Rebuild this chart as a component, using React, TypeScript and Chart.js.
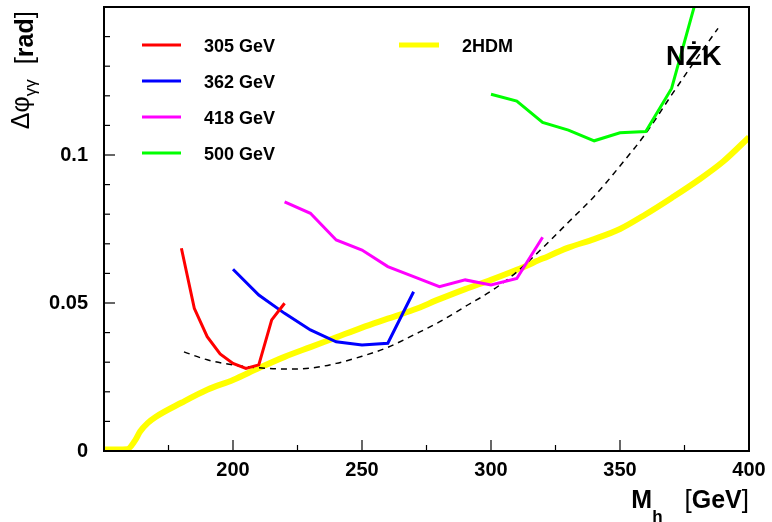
import { useEffect, useRef } from "react";
import { Chart, registerables } from "chart.js";

Chart.register(...registerables);

const FONT = '"Liberation Sans", Arial, Helvetica, sans-serif';

// Δφγγ (rad) versus Higgs mass M_h (GeV) for each collider energy
const mass305 = [180, 185, 190, 195, 200, 205, 210, 215, 220];
const phi305 = [0.0685, 0.0482, 0.0386, 0.0328, 0.0296, 0.0279, 0.0291, 0.0443, 0.0499];

const mass362 = [200, 210, 220, 230, 240, 250, 260, 270];
const phi362 = [0.0614, 0.0527, 0.0465, 0.0409, 0.0369, 0.0358, 0.0364, 0.0538];

const mass418 = [220, 230, 240, 250, 260, 270, 280, 290, 300, 310, 320];
const phi418 = [0.0842, 0.0803, 0.0713, 0.0679, 0.0623, 0.0589, 0.0555, 0.0578, 0.0561, 0.0583, 0.0722];

const mass500 = [300, 310, 320, 330, 340, 350, 360, 370, 380];
const phi500 = [0.1205, 0.1182, 0.111, 0.1084, 0.1048, 0.1075, 0.1079, 0.1225, 0.154];

// 2HDM prediction
const mass2hdm = [150, 155, 159, 162, 164, 167, 170, 180, 190, 200, 210, 220, 230, 240, 250, 260, 270, 280, 290, 300, 310, 320, 330, 340, 350, 360, 370, 380, 390, 400];
const phi2hdm = [0.0005, 0.0005, 0.0006, 0.0035, 0.0066, 0.0095, 0.0115, 0.0163, 0.0207, 0.024, 0.028, 0.0318, 0.0351, 0.0384, 0.0417, 0.0447, 0.0477, 0.0513, 0.0547, 0.0578, 0.0612, 0.065, 0.0687, 0.0716, 0.075, 0.08, 0.0855, 0.0913, 0.0978, 0.106];

// NŻK reference curve (dashed)
const massNzk = [181, 190, 200, 210, 220, 230, 240, 250, 260, 270, 280, 290, 300, 310, 320, 330, 340, 350, 360, 370, 380, 388];
const phiNzk = [0.0335, 0.0308, 0.0291, 0.0281, 0.0277, 0.028, 0.0296, 0.032, 0.035, 0.0392, 0.0436, 0.0488, 0.054, 0.0605, 0.0686, 0.0773, 0.086, 0.0963, 0.1073, 0.1203, 0.133, 0.1428];

const xTickValues = [200, 250, 300, 350, 400];
const xTickLabels = ["200", "250", "300", "350", "400"];
const xMinorTicks = [175, 225, 275, 325, 375];
const yTickValues = [0, 0.05, 0.1];
const yTickLabels = ["0", "0.05", "0.1"];
const yMinorTicks = [0.01, 0.02, 0.03, 0.04, 0.06, 0.07, 0.08, 0.09, 0.11, 0.12, 0.13, 0.14];

const energyLabels = ["305 GeV", "362 GeV", "418 GeV", "500 GeV"];
const energyColors = ["#ff0000", "#0000ff", "#ff00ff", "#00ff00"];
const modelLabel = "2HDM";
const modelColor = "#ffff00";
const curveLabel = "NŻK";

const toPoints = (xs: number[], ys: number[]) => xs.map((x, i) => ({ x, y: ys[i] }));

type Seg = { text: string; font: string; dy: number; gap?: number };

function drawSegments(ctx: CanvasRenderingContext2D, segs: Seg[], x: number, y: number) {
  let cx = x;
  for (const s of segs) {
    cx += s.gap ?? 0;
    ctx.font = s.font;
    ctx.fillText(s.text, cx, y + s.dy);
    cx += ctx.measureText(s.text).width;
  }
}

function segWidth(ctx: CanvasRenderingContext2D, segs: Seg[]) {
  let w = 0;
  for (const s of segs) {
    ctx.font = s.font;
    w += (s.gap ?? 0) + ctx.measureText(s.text).width;
  }
  return w;
}

const decorations = {
  id: "decorations",
  afterDatasetsDraw(chart: any) {
    const { ctx, chartArea: a, scales } = chart;
    const xs = scales.x;
    const ys = scales.y;
    ctx.save();
    ctx.strokeStyle = "#000";
    ctx.fillStyle = "#000";

    // inward tick marks
    ctx.lineWidth = 1.2;
    const line = (x1: number, y1: number, x2: number, y2: number) => {
      ctx.beginPath();
      ctx.moveTo(x1, y1);
      ctx.lineTo(x2, y2);
      ctx.stroke();
    };
    xTickValues.forEach((v) => {
      const px = xs.getPixelForValue(v);
      line(px, a.bottom, px, a.bottom - 11);
    });
    xMinorTicks.forEach((v) => {
      const px = xs.getPixelForValue(v);
      line(px, a.bottom, px, a.bottom - 6);
    });
    yTickValues.forEach((v) => {
      const py = ys.getPixelForValue(v);
      line(a.left, py, a.left + 11, py);
    });
    yMinorTicks.forEach((v) => {
      const py = ys.getPixelForValue(v);
      line(a.left, py, a.left + 6, py);
    });

    // frame
    ctx.lineWidth = 2;
    ctx.strokeRect(a.left, a.top, a.right - a.left, a.bottom - a.top);

    // legend
    ctx.textAlign = "left";
    ctx.textBaseline = "alphabetic";
    ctx.font = `bold 18px ${FONT}`;
    energyLabels.forEach((label, i) => {
      const ly = 45 + 36 * i;
      ctx.strokeStyle = energyColors[i];
      ctx.lineWidth = 3;
      line(142, ly, 181, ly);
      ctx.fillStyle = "#000";
      ctx.fillText(label, 204, ly + 7);
    });
    ctx.strokeStyle = modelColor;
    ctx.lineWidth = 5;
    line(399, 45, 439, 45);
    ctx.fillText(modelLabel, 462, 52);

    // curve label
    ctx.font = `bold 27px ${FONT}`;
    ctx.fillText(curveLabel, 666, 65);

    // x-axis title
    const xSegs: Seg[] = [
      { text: "M", font: `bold 25px ${FONT}`, dy: 0 },
      { text: "h", font: `bold 17px ${FONT}`, dy: 14 },
      { text: "[", font: `26px ${FONT}`, dy: 0, gap: 22 },
      { text: "GeV", font: `bold 25px ${FONT}`, dy: 0 },
      { text: "]", font: `26px ${FONT}`, dy: 0 },
    ];
    const xw = segWidth(ctx, xSegs);
    drawSegments(ctx, xSegs, 749 - xw, 508);

    // y-axis title (rotated)
    const ySegs: Seg[] = [
      { text: "Δφ", font: `25px ${FONT}`, dy: -4 },
      { text: "γγ", font: `17px ${FONT}`, dy: 3 },
      { text: "[", font: `26px ${FONT}`, dy: 0, gap: 15 },
      { text: "rad", font: `bold 25px ${FONT}`, dy: 0 },
      { text: "]", font: `26px ${FONT}`, dy: 0 },
    ];
    const yw = segWidth(ctx, ySegs);
    ctx.translate(33, 11 + yw);
    ctx.rotate(-Math.PI / 2);
    drawSegments(ctx, ySegs, 0, 0);

    ctx.restore();
  },
};

export default function App() {
  const canvasRef = useRef<HTMLCanvasElement | null>(null);

  useEffect(() => {
    const canvas = canvasRef.current;
    if (!canvas) return;
    const thin = { pointRadius: 0, borderWidth: 3, tension: 0, clip: 0, fill: false };
    const chart = new Chart(canvas, {
      type: "line",
      data: {
        datasets: [
          { ...thin, label: energyLabels[0], data: toPoints(mass305, phi305), borderColor: energyColors[0] },
          { ...thin, label: energyLabels[1], data: toPoints(mass362, phi362), borderColor: energyColors[1] },
          { ...thin, label: energyLabels[2], data: toPoints(mass418, phi418), borderColor: energyColors[2] },
          { ...thin, label: energyLabels[3], data: toPoints(mass500, phi500), borderColor: energyColors[3] },
          {
            label: curveLabel,
            data: toPoints(massNzk, phiNzk),
            borderColor: "#000",
            borderWidth: 1.5,
            borderDash: [6, 5],
            pointRadius: 0,
            tension: 0.4,
            cubicInterpolationMode: "monotone",
            clip: 0,
            fill: false,
          },
          {
            label: modelLabel,
            data: toPoints(mass2hdm, phi2hdm),
            borderColor: modelColor,
            borderWidth: 6,
            pointRadius: 0,
            tension: 0.4,
            cubicInterpolationMode: "monotone",
            clip: 0,
            fill: false,
          },
        ],
      } as any,
      options: {
        animation: false,
        responsive: false,
        devicePixelRatio: 1,
        layout: { padding: { top: 7, right: 23, left: 0, bottom: 0 } },
        plugins: { legend: { display: false }, tooltip: { enabled: false } },
        scales: {
          x: {
            type: "linear",
            min: 150,
            max: 400,
            grid: { display: false, drawTicks: false },
            border: { display: false },
            afterFit: (s: any) => {
              s.height = 71;
              s.paddingLeft = 0;
              s.paddingRight = 0;
            },
            afterBuildTicks: (s: any) => {
              s.ticks = xTickValues.map((value) => ({ value }));
            },
            ticks: {
              autoSkip: false,
              maxRotation: 0,
              padding: 7,
              color: "#000",
              font: { family: FONT, size: 20, weight: "bold" },
              callback: (_v: any, i: number) => xTickLabels[i],
            },
          },
          y: {
            type: "linear",
            min: 0,
            max: 0.15,
            grid: { display: false, drawTicks: false },
            border: { display: false },
            afterFit: (s: any) => {
              s.width = 104;
              s.paddingTop = 0;
              s.paddingBottom = 0;
            },
            afterBuildTicks: (s: any) => {
              s.ticks = yTickValues.map((value) => ({ value }));
            },
            ticks: {
              autoSkip: false,
              padding: 16,
              color: "#000",
              font: { family: FONT, size: 20, weight: "bold" },
              callback: (_v: any, i: number) => yTickLabels[i],
            },
          },
        },
      } as any,
      plugins: [decorations],
    });
    return () => chart.destroy();
  }, []);

  return (
    <div style={{ position: "fixed", left: 0, top: 0, width: 772, height: 522, background: "#fff" }}>
      <canvas ref={canvasRef} width={772} height={522} style={{ display: "block" }} />
    </div>
  );
}
